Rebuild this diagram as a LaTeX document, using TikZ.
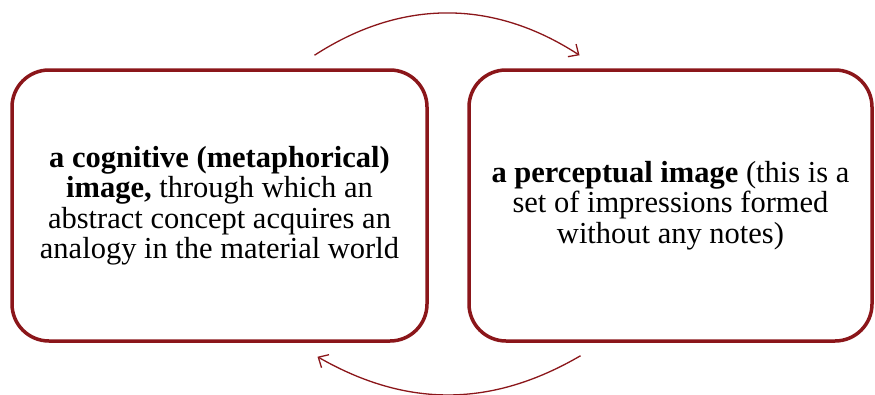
\documentclass[tikz,border=0pt]{standalone}
\usepackage{fontspec}
\setmainfont{Liberation Serif}
\usetikzlibrary{arrows.meta,positioning}

\definecolor{boxred}{RGB}{139,22,26}

\begin{document}
\begin{tikzpicture}[node distance=451pt,on grid,
                    >={Straight Barb[length=8pt,width=15pt]},
                    imgbox/.style={draw=boxred,line width=3.5pt,
                      rounded corners=37pt,minimum height=271pt,
                      align=center,font=\fontsize{30.5}{30.5}\selectfont},
                    cycle/.style={->,draw=boxred,line width=1.3pt,bend left=33}]
    \useasboundingbox (0pt,0pt) rectangle (875pt,-394pt);

    \node[imgbox,minimum width=415pt] (cog) at (219.5pt,-205.5pt)
        {\textbf{a cognitive (metaphorical)}\\
         \textbf{image,} through which an\\
         abstract concept acquires an\\
         analogy in the material world};
    \node[imgbox,minimum width=403pt] (perc) [right=of cog]
        {\textbf{a perceptual image} (this is a\\
         set of impressions formed\\
         without any notes)};

    % ends of the two arcs
    \coordinate (cogtop)  at ([xshift=95pt,yshift=13pt]cog.north);
    \coordinate (perctop) at ([xshift=-91pt,yshift=13pt]perc.north);
    \coordinate (percbot) at ([xshift=-90pt,yshift=-13pt]perc.south);
    \coordinate (cogbot)  at ([xshift=98pt,yshift=-14pt]cog.south);

    \draw[cycle] (cogtop) to (perctop);
    \draw[cycle,bend left=30] (percbot) to (cogbot);
\end{tikzpicture}
\end{document}
